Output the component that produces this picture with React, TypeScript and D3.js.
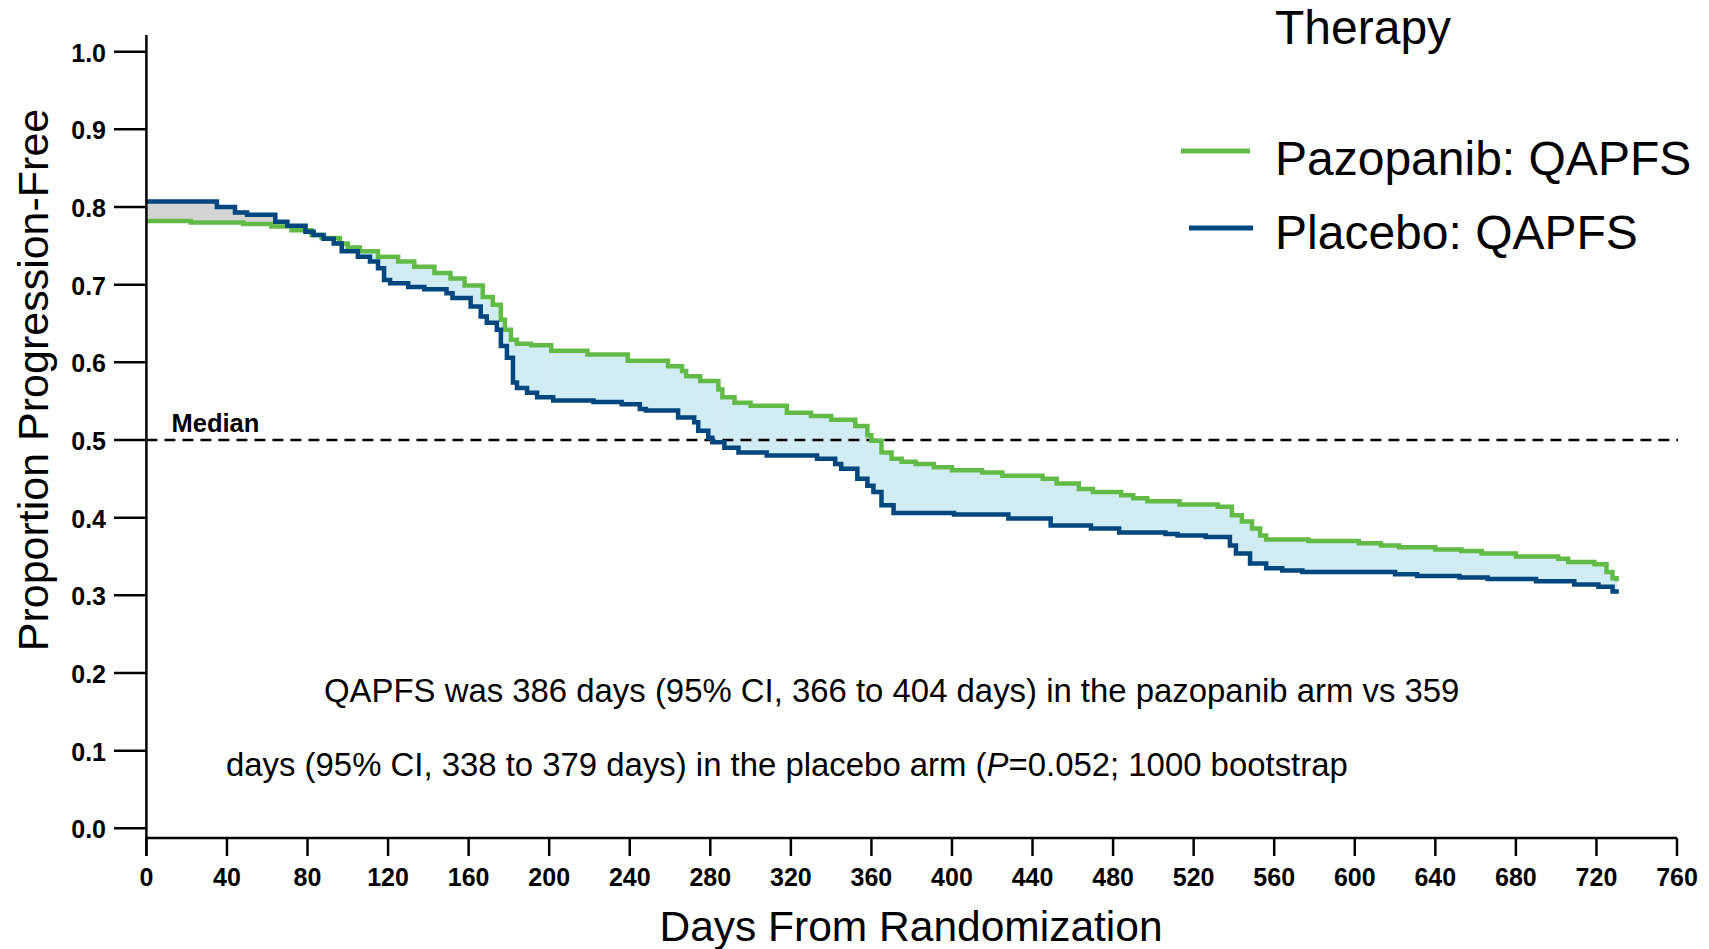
import React from "react";
import * as d3 from "d3";

// step data: [day, proportion] — value holds from that day on
const pazopanib: [number, number][] = [
  [0, 0.782], [22, 0.78], [48, 0.778], [62, 0.775], [72, 0.77], [82, 0.764], [87, 0.76],
  [96, 0.753], [100, 0.748], [106, 0.743], [115, 0.736], [125, 0.73], [133, 0.723],
  [143, 0.715], [151, 0.708], [158, 0.699], [167, 0.684], [172, 0.674], [176, 0.655],
  [178, 0.642], [181, 0.629], [184, 0.624], [191, 0.622], [201, 0.615], [219, 0.61],
  [239, 0.602], [259, 0.595], [266, 0.589], [268, 0.582], [275, 0.576], [284, 0.565],
  [286, 0.555], [292, 0.548], [300, 0.544], [318, 0.535], [330, 0.531], [340, 0.526],
  [352, 0.518], [358, 0.506], [360, 0.499], [365, 0.484], [370, 0.476], [375, 0.472],
  [382, 0.469], [391, 0.465], [400, 0.461], [415, 0.458], [425, 0.454], [445, 0.45],
  [452, 0.444], [463, 0.437], [470, 0.433], [484, 0.429], [490, 0.425], [497, 0.421],
  [513, 0.417], [532, 0.414], [539, 0.403], [544, 0.395], [549, 0.386], [553, 0.377],
  [556, 0.372], [577, 0.37], [602, 0.367], [613, 0.364], [622, 0.362], [640, 0.359],
  [653, 0.357], [663, 0.354], [680, 0.35], [701, 0.347], [706, 0.343], [719, 0.34],
  [725, 0.33], [728, 0.322], [730, 0.318],
];

const placebo: [number, number][] = [
  [0, 0.807], [35, 0.8], [44, 0.793], [50, 0.79], [64, 0.781], [70, 0.776], [79, 0.768],
  [83, 0.764], [88, 0.759], [93, 0.753], [97, 0.743], [105, 0.736], [111, 0.73],
  [115, 0.721], [118, 0.706], [121, 0.702], [130, 0.697], [138, 0.694], [149, 0.689],
  [152, 0.683], [161, 0.672], [166, 0.659], [169, 0.651], [174, 0.642], [176, 0.621],
  [179, 0.606], [182, 0.574], [184, 0.567], [189, 0.561], [194, 0.555], [202, 0.551],
  [222, 0.549], [236, 0.546], [245, 0.54], [248, 0.538], [264, 0.529], [272, 0.523],
  [274, 0.512], [279, 0.503], [281, 0.497], [287, 0.49], [294, 0.484], [308, 0.48],
  [333, 0.476], [342, 0.469], [345, 0.463], [353, 0.45], [358, 0.441], [361, 0.433],
  [365, 0.416], [371, 0.406], [401, 0.404], [428, 0.399], [449, 0.39], [469, 0.386],
  [483, 0.381], [506, 0.379], [512, 0.377], [526, 0.375], [538, 0.364], [541, 0.354],
  [548, 0.341], [556, 0.335], [564, 0.332], [574, 0.33], [620, 0.327], [631, 0.325],
  [652, 0.323], [666, 0.321], [690, 0.318], [709, 0.314], [721, 0.311], [728, 0.305],
  [730, 0.302],
];

const seriesNames = ["Pazopanib: QAPFS", "Placebo: QAPFS"];
const seriesColors = ["#62bb46", "#00467f"];
const xTicks = d3.range(0, 761, 40);
const yTicks = d3.range(0, 1.01, 0.1);
const medianValue = 0.5;
const noteLines = [
  "QAPFS was 386 days (95% CI, 366 to 404 days) in the pazopanib arm vs 359",
  "days (95% CI, 338 to 379 days) in the placebo arm (",
];

const W = 1709;
const H = 949;
const font = "'Liberation Sans', Arial, sans-serif";

function valueAt(s: [number, number][], day: number) {
  let v = s[0][1];
  for (const [d, val] of s) {
    if (d <= day) v = val;
    else break;
  }
  return v;
}

export default function App() {
  const x = d3.scaleLinear().domain([0, 760]).range([146.4, 1677]);
  const y = d3.scaleLinear().domain([0, 1]).range([828.3, 51.7]);
  const axisY = 838;

  const line = d3
    .line<[number, number]>()
    .x((d) => x(d[0]))
    .y((d) => y(d[1]))
    .curve(d3.curveStepAfter);

  // band between the curves, one rect per interval
  const days = Array.from(
    new Set([...pazopanib.map((d) => d[0]), ...placebo.map((d) => d[0])])
  ).sort((a, b) => a - b);
  const bands = days.slice(0, -1).map((d, i) => {
    const g = valueAt(pazopanib, d);
    const b = valueAt(placebo, d);
    return { d0: d, d1: days[i + 1], hi: Math.max(g, b), lo: Math.min(g, b), greenUp: g >= b };
  });

  return (
    <svg
      width={W}
      height={H}
      style={{ position: "absolute", left: 0, top: 0, background: "#fff" }}
      fontFamily={font}
    >
      {/* fill between curves */}
      <g>
        {bands.map((b, i) => (
          <rect
            key={i}
            x={x(b.d0)}
            width={x(b.d1) - x(b.d0) + 0.5}
            y={y(b.hi)}
            height={y(b.lo) - y(b.hi)}
            fill={b.greenUp ? "#d1ecf2" : "#d4d4d4"}
          />
        ))}
      </g>

      {/* median line */}
      <line
        x1={x(0)}
        x2={1678}
        y1={y(medianValue)}
        y2={y(medianValue)}
        stroke="#000"
        strokeWidth={2.5}
        strokeDasharray="11,7"
      />
      <text x={171.5} y={432} fontSize={25.5} fontWeight="bold">
        Median
      </text>

      {/* curves */}
      <path d={line(pazopanib) || ""} fill="none" stroke={seriesColors[0]} strokeWidth={4.5} />
      <path d={line(placebo) || ""} fill="none" stroke={seriesColors[1]} strokeWidth={4.5} />

      {/* y axis */}
      <line x1={x(0)} x2={x(0)} y1={35} y2={856} stroke="#000" strokeWidth={2.5} />
      {yTicks.map((t) => (
        <g key={t}>
          <line x1={114} x2={x(0)} y1={y(t)} y2={y(t)} stroke="#000" strokeWidth={2.5} />
          <text x={106} y={y(t) + 10} textAnchor="end" fontSize={25} fontWeight="bold">
            {d3.format(".1f")(t)}
          </text>
        </g>
      ))}

      {/* x axis */}
      <line x1={x(0)} x2={x(760)} y1={axisY} y2={axisY} stroke="#000" strokeWidth={2.5} />
      {xTicks.map((t) => (
        <g key={t}>
          <line x1={x(t)} x2={x(t)} y1={axisY} y2={856} stroke="#000" strokeWidth={2.5} />
          <text x={x(t)} y={886} textAnchor="middle" fontSize={25} fontWeight="bold">
            {t}
          </text>
        </g>
      ))}

      <text
        transform={`translate(48,380) rotate(-90)`}
        textAnchor="middle"
        fontSize={43}
      >
        Proportion Progression-Free
      </text>
      <text x={911} y={941} textAnchor="middle" fontSize={42.5}>
        Days From Randomization
      </text>

      {/* annotation */}
      <text x={324} y={702} fontSize={32.9}>
        {noteLines[0]}
      </text>
      <text x={226} y={776} fontSize={32.9}>
        {noteLines[1]}
        <tspan fontStyle="italic">P</tspan>
        =0.052; 1000 bootstrap
      </text>

      {/* legend */}
      <text x={1275} y={44} fontSize={48}>
        Therapy
      </text>
      {seriesNames.map((name, i) => (
        <g key={name}>
          <line
            x1={i === 0 ? 1181 : 1189}
            x2={i === 0 ? 1250 : 1253}
            y1={151 + i * 77}
            y2={151 + i * 77}
            stroke={seriesColors[i]}
            strokeWidth={5}
          />
          <text x={1275} y={175 + i * 74} fontSize={48}>
            {name}
          </text>
        </g>
      ))}
    </svg>
  );
}
